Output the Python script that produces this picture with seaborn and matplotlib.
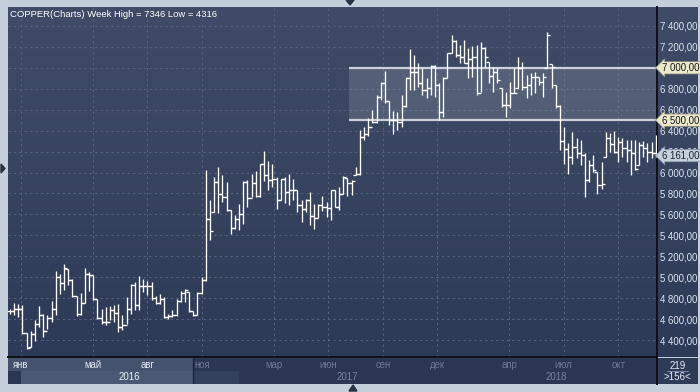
import numpy as np
import pandas as pd
import matplotlib
matplotlib.use("Agg")
import matplotlib.pyplot as plt
import matplotlib.transforms as mtransforms
from matplotlib.colors import LinearSegmentedColormap
from matplotlib.patches import Rectangle, Polygon
import seaborn as sns

# ---------------- data (weekly OHLC, COPPER) ----------------
first_week = "2015-12-14"

highs = [4698, 4753, 4743, 4730, 4469, 4482, 4593, 4721, 4651, 4635,
         4769, 5059, 5033, 5129, 5081, 4986, 4817, 4848, 5091, 5049,
         5018, 4788, 4698, 4714, 4721, 4737, 4746, 4635, 4810, 4938,
         4954, 5011, 4986, 4960, 4954, 4817, 4842, 4810, 4651, 4683,
         4794, 4864, 4890, 4858, 4673, 4858, 5001,
         6028, 5735, 5958, 6054, 5974, 5910, 5639, 5591, 5703, 5920,
         5933, 5990, 6016, 6086, 6204, 6108, 6086, 5958, 5942, 5958,
         5990, 5942, 5837, 5741, 5751, 5815, 5703, 5703, 5773, 5719,
         5831, 5837, 5862,
         5964, 5950, 5926, 6054,
         6405, 6437, 6517, 6596, 6740, 6868, 6970, 6683, 6587, 6580,
         6740, 6915, 7177, 7123, 7043, 6995, 6900, 7027, 7027, 6852,
         6915, 7139, 7314, 7266, 7218, 7266, 7187, 7209, 7218, 7250,
         7202, 7059, 7011,
         6995, 6804, 6772, 6868, 6995, 7107, 7059, 6932, 6947, 6963,
         6916, 6947, 7346,
         7034, 6836, 6644, 6437, 6278, 6389, 6325, 6310, 6182, 6118,
         6166, 6006, 6102, 6383, 6373, 6396, 6341, 6325, 6310, 6310,
         6310, 6294, 6300, 6278, 6294, 6357]

lows = [4651, 4635, 4619, 4459, 4316, 4332, 4395, 4523, 4427, 4507,
        4571, 4641, 4842, 4874, 4928, 4810, 4628, 4635, 4756, 4868,
        4778, 4603, 4549, 4539, 4593, 4571, 4475, 4497, 4549, 4651,
        4683, 4683, 4858, 4826, 4778, 4740, 4746, 4609, 4603, 4619,
        4628, 4762, 4762, 4666, 4625, 4635, 4835,
        4960, 5358, 5623, 5613, 5719, 5633, 5416, 5464, 5448, 5512,
        5671, 5767, 5767, 5767, 5920, 5831, 5862, 5655, 5735, 5709,
        5687, 5735, 5623, 5527, 5623, 5496, 5464, 5569, 5633, 5575,
        5550, 5671, 5639,
        5799, 5780, 5783, 5974,
        5974, 6309, 6348, 6469, 6469, 6692, 6667, 6453, 6367, 6405,
        6437, 6628, 6788, 6788, 6820, 6740, 6708, 6740, 6724, 6501,
        6533, 6900, 7139, 7107, 7043, 7043, 6900, 6915, 6740, 6772,
        7011, 6852, 6772,
        6852, 6628, 6533, 6613, 6756, 6804, 6788, 6708, 6740, 6756,
        6836, 6724, 6995,
        6804, 6613, 6214, 6086, 5990, 6086, 6134, 6070, 5767, 5911,
        6006, 5799, 5847, 6150, 6198, 6182, 6102, 6150, 6102, 5975,
        6022, 6070, 6150, 6102, 6134, 6150]

opens = [4680, 4673, 4698, 4692, 4469, 4332, 4459, 4555, 4635, 4491,
         4609, 4692, 5002, 4947, 5081, 4970, 4817, 4651, 4756, 5033,
         5018, 4788, 4612, 4571, 4577, 4683, 4660, 4523, 4545, 4698,
         4922, 4730, 4915, 4915, 4915, 4801, 4753, 4788, 4616, 4628,
         4641, 4769, 4848, 4858, 4673, 4635, 4848,
         4976, 5553, 5623, 5910, 5792, 5767, 5639, 5473, 5553, 5607,
         5910, 5760, 5901, 5773, 6086, 5974, 5926, 5942, 5735, 5942,
         5815, 5831, 5837, 5687, 5655, 5741, 5582, 5569, 5687, 5671,
         5661, 5831, 5671,
         5799, 5950, 5900, 5974,
         5990, 6341, 6367, 6431, 6485, 6724, 6852, 6683, 6501, 6501,
         6485, 6635, 6900, 6963, 6963, 6852, 6788, 6804, 7021, 6836,
         6580, 6900, 7139, 7257, 7123, 7107, 7043, 7081, 7107, 6756,
         7187, 7059, 6922,
         6963, 6804, 6644, 6644, 6756, 6804, 6995, 6820, 6836, 6916,
         6916, 6868, 6995,
         7034, 6836, 6640, 6300, 6223, 6150, 6246, 6182, 6166, 5927,
         6070, 6006, 5879, 6150, 6332, 6268, 6198, 6287, 6230, 6214,
         6182, 6070, 6262, 6230, 6198, 6182]

closes = [4673, 4698, 4692, 4469, 4328, 4459, 4555, 4635, 4491, 4609,
          4692, 5002, 4947, 5088, 4970, 4817, 4651, 4756, 5033, 5024,
          4788, 4612, 4571, 4577, 4683, 4660, 4523, 4545, 4698, 4922,
          4730, 4915, 4915, 4915, 4801, 4753, 4788, 4616, 4628, 4641,
          4769, 4848, 4874, 4673, 4635, 4848, 4976,
          5553, 5438, 5910, 5792, 5767, 5639, 5473, 5553, 5607, 5910,
          5760, 5901, 5773, 6086, 5974, 5926, 5942, 5735, 5942, 5815,
          5831, 5837, 5687, 5655, 5741, 5582, 5569, 5687, 5671, 5661,
          5831, 5671, 5799,
          5958, 5900, 5920, 5990,
          6341, 6367, 6431, 6485, 6724, 6852, 6683, 6501, 6501, 6485,
          6635, 6900, 6963, 6963, 6852, 6788, 6804, 7021, 6836, 6580,
          6900, 7139, 7257, 7123, 7107, 7043, 7081, 7107, 6756, 7187,
          7107, 6922, 6963,
          6884, 6644, 6644, 6756, 6756, 6995, 6820, 6836, 6916, 6916,
          6868, 6916, 7314,
          7011, 6640, 6300, 6223, 6150, 6246, 6182, 6166, 5927, 6070,
          6022, 5879, 5895, 6332, 6268, 6198, 6287, 6230, 6214, 6182,
          6038, 6262, 6230, 6198, 6182, 6161]

title = "COPPER(Charts) Week High = 7346 Low = 4316"
price_ticks = list(range(4400, 7401, 200))
level_lines = [7000, 6500]
band_start = "2017-07-05"
last_price = 6161

month_dates = ["2016-01-01", "2016-05-01", "2016-08-01", "2016-11-01",
               "2017-03-01", "2017-06-01", "2017-09-01", "2017-12-01",
               "2018-04-01", "2018-07-01", "2018-10-01"]
month_labels = ["янв", "май", "авг", "ноя", "мар", "июн", "сен", "дек",
                "апр", "июл", "окт"]
years = [2016, 2017, 2018]
footer_top = "219"
footer_bottom = ">156<"

# ---------------- helpers ----------------
W, H = 700, 392
start = pd.Timestamp(first_week)


def wk(date):
    return (pd.Timestamp(date) - start).days / 7.0


def box(x0, y0, w, h):
    return [x0 / W, 1 - (y0 + h) / H, w / W, h / H]


def fmt(v):
    s = f"{v:,.2f}"
    return s.replace(",", " ").replace(".", ",")


sns.set_style("white")
plt.rcParams["font.family"] = ["Liberation Sans", "DejaVu Sans"]

fig = plt.figure(figsize=(W / 100, H / 100), dpi=100)
fig.patch.set_facecolor("#c4cfdb")

grad = np.linspace(0, 1, 256).reshape(-1, 1)
cmap_main = LinearSegmentedColormap.from_list("bg", ["#404c67", "#2d3a57"])

# background gradient of the chart area
bg = fig.add_axes(box(8, 7, 649, 350), zorder=0)
bg.imshow(grad, cmap=cmap_main, aspect="auto", extent=[0, 1, 0, 1])
bg.set_axis_off()
# right price panel
bgr = fig.add_axes(box(658, 7, 40, 350), zorder=0)
bgr.imshow(grad, cmap=cmap_main, aspect="auto", extent=[0, 1, 0, 1])
bgr.set_axis_off()

ax = fig.add_axes(box(8, 7, 649, 350), zorder=2)
ax.set_facecolor("none")

n = len(closes)
x = np.arange(n)
df = pd.DataFrame({"x": x, "open": opens, "high": highs, "low": lows, "close": closes})

xmin, xmax = -0.48, 155.3
ax.set_xlim(xmin, xmax)
ax.set_ylim(4238, 7581)

# grid
mpos = [wk(d) for d in month_dates]
ax.set_xticks(mpos)
ax.set_yticks(price_ticks)
ax.grid(True, color="#55627d", lw=0.75, ls=(0, (2.2, 3)))
ax.tick_params(axis="x", length=0, labelbottom=False)
ax.yaxis.tick_right()
ax.set_yticklabels([fmt(v) for v in price_ticks])
ax.tick_params(axis="y", length=0, pad=2.5, labelsize=6.9, labelcolor="#dbe5f2")

# band between levels
bx = wk(band_start)
ax.fill_between([bx, xmax], level_lines[1], level_lines[0], color="white",
                alpha=0.13, lw=0, zorder=1)
ax.hlines(level_lines, bx, xmax, color="#cdd1d9", lw=1.6, zorder=2)

# OHLC bars
ax.vlines(df["x"], df["low"], df["high"], color="white", lw=0.95, zorder=4)
sns.scatterplot(data=df, x="x", y="open", marker=0, s=5, color="white",
                edgecolor="white", linewidth=0.95, ax=ax, legend=False, zorder=5)
sns.scatterplot(data=df, x="x", y="close", marker=1, s=5, color="white",
                edgecolor="white", linewidth=0.95, ax=ax, legend=False, zorder=5)
ax.set_xlabel("")
ax.set_ylabel("")

for s in ["top", "left"]:
    ax.spines[s].set_visible(False)
ax.spines["right"].set_color("#0b0f18")
ax.spines["right"].set_linewidth(1.4)
ax.spines["bottom"].set_color("#0b0f18")
ax.spines["bottom"].set_linewidth(1.4)

ax.text(2 / 649, 0.992, title, transform=ax.transAxes, ha="left", va="top",
        fontsize=6.8, color="white")

# price tags
blend = mtransforms.blended_transform_factory(ax.transAxes, ax.transData)
for lv in level_lines:
    ax.text(1 + 5 / 649, lv, fmt(lv), transform=blend, ha="left", va="center",
            fontsize=6.9, color="#15171c", zorder=10, clip_on=False,
            bbox=dict(boxstyle="larrow,pad=0.12", fc="#ebe8cb", ec="#8e8d78", lw=0.5))
ax.text(1 + 5 / 649, last_price, fmt(last_price), transform=blend, ha="left",
        va="center", fontsize=6.9, color="#1b2232", zorder=10, clip_on=False,
        bbox=dict(boxstyle="larrow,pad=0.12", fc="#c6d0dc", ec="#7e8aa0", lw=0.5))

# ---------------- time axis ----------------
ta = fig.add_axes(box(8, 358, 649, 26), zorder=1)
ta.set_xlim(xmin, xmax)
ta.set_ylim(1, 0)
ta.set_facecolor("#2b3752")
for s in ["top", "left", "bottom"]:
    ta.spines[s].set_visible(False)
ta.spines["right"].set_color("#0b0f18")
ta.spines["right"].set_linewidth(1.4)
ta.set_xticks([])
ta.set_yticks([])

split = wk("2016-10-17")
ta.add_patch(Rectangle((xmin, 0), split - xmin, 0.5, color="#45526d", lw=0))
ta.add_patch(Rectangle((wk("2016-01-01"), 0.5), split - wk("2016-01-01"), 0.5,
                       color="#4b5874", lw=0))
ta.add_patch(Rectangle((split, 0.5), wk("2017-01-01") - split, 0.5,
                       color="#33405c", lw=0))
ta.axvline(split, color="#1d2538", lw=1)

for pos, lab, d in zip(mpos, month_labels, month_dates):
    bright = pd.Timestamp(d) < pd.Timestamp("2016-10-17")
    ta.text(pos, 0.27, lab, ha="center", va="center", fontsize=6.9,
            color="#e2eaf4" if bright else "#6c7995")
for yr in years:
    a = max(wk(f"{yr}-01-01"), xmin)
    b = min(wk(f"{yr + 1}-01-01"), xmax)
    ta.text((a + b) / 2, 0.74, str(yr), ha="center", va="center", fontsize=7,
            color="#e6edf6" if yr == 2016 else "#75829e")

# footer box on the right
fb = fig.add_axes(box(658, 358, 40, 26), zorder=1)
fb.set_facecolor("#2e3b57")
fb.set_xlim(0, 1)
fb.set_ylim(1, 0)
fb.set_xticks([])
fb.set_yticks([])
for s in fb.spines.values():
    s.set_visible(False)
fb.text(0.48, 0.3, footer_top, ha="center", va="center", fontsize=7, color="#e2eaf4")
fb.plot([0.22, 0.76], [0.5, 0.5], color="#75829e", lw=0.8)
fb.text(0.48, 0.74, footer_bottom, ha="center", va="center", fontsize=7, color="#e2eaf4")

# small navigation triangles
tri_col = "#273247"
def tri(pts):
    fig.patches.append(Polygon([(px / W, 1 - py / H) for px, py in pts],
                               closed=True, transform=fig.transFigure,
                               color=tri_col, figure=fig))
tri([(346, 0), (354, 0), (350, 5)])
tri([(349, 391), (357, 391), (353, 385)])
tri([(1, 164), (1, 173), (5, 168.5)])

fig.savefig("out.png", dpi=100, facecolor=fig.get_facecolor())
